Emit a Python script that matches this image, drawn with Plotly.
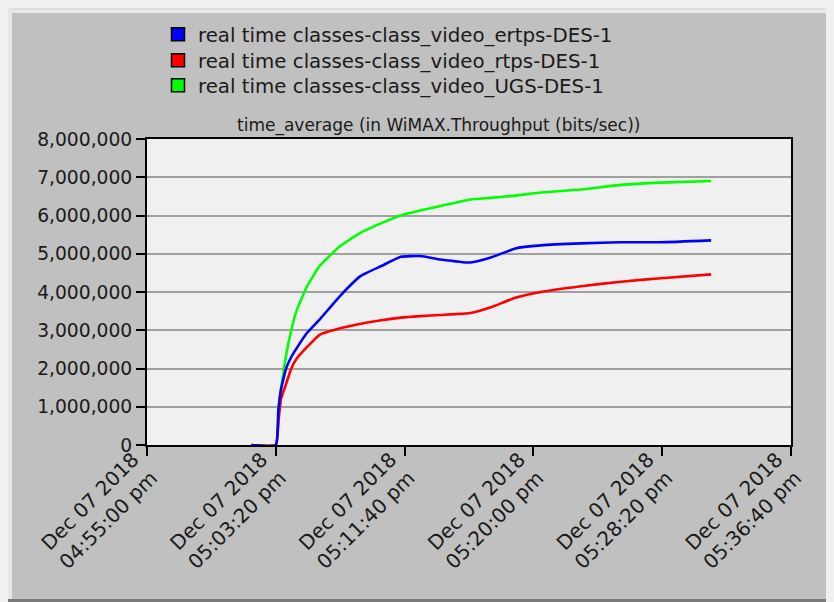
import plotly.graph_objects as go

# ---- data ----
times = ["2018-12-07 17:01:45", "2018-12-07 17:03:20", "2018-12-07 17:03:30",
         "2018-12-07 17:03:40", "2018-12-07 17:04:00", "2018-12-07 17:04:20",
         "2018-12-07 17:04:40", "2018-12-07 17:05:20", "2018-12-07 17:06:10",
         "2018-12-07 17:07:30", "2018-12-07 17:08:50", "2018-12-07 17:10:10",
         "2018-12-07 17:11:25", "2018-12-07 17:12:40", "2018-12-07 17:14:00",
         "2018-12-07 17:15:55", "2018-12-07 17:17:15", "2018-12-07 17:18:50",
         "2018-12-07 17:20:30", "2018-12-07 17:23:05", "2018-12-07 17:25:40",
         "2018-12-07 17:28:15", "2018-12-07 17:31:30"]

ertps = [0, 0, 900000, 1450000, 2000000, 2300000, 2520000, 2920000, 3280000,
         3900000, 4420000, 4680000, 4920000, 4940000, 4850000, 4770000,
         4900000, 5140000, 5220000, 5270000, 5300000, 5300000, 5350000]
rtps = [0, 0, 600000, 1200000, 1600000, 2000000, 2250000, 2550000, 2880000,
        3050000, 3170000, 3260000, 3330000, 3370000, 3400000, 3450000,
        3600000, 3850000, 4000000, 4150000, 4270000, 4360000, 4460000]
ugs = [0, 0, 950000, 1450000, 2350000, 3000000, 3500000, 4130000, 4680000,
       5200000, 5550000, 5800000, 6000000, 6130000, 6250000, 6420000,
       6460000, 6520000, 6600000, 6680000, 6800000, 6860000, 6900000]

series_names = ["real time classes-class_video_ertps-DES-1",
                "real time classes-class_video_rtps-DES-1",
                "real time classes-class_video_UGS-DES-1"]
series_colors = ["#0000ff", "#ff0000", "#00ff00"]

x_tick_vals = ["2018-12-07 16:55:00", "2018-12-07 17:03:20", "2018-12-07 17:11:40",
               "2018-12-07 17:20:00", "2018-12-07 17:28:20", "2018-12-07 17:36:40"]
x_tick_text = ["Dec 07 2018<br>04:55:00 pm", "Dec 07 2018<br>05:03:20 pm",
               "Dec 07 2018<br>05:11:40 pm", "Dec 07 2018<br>05:20:00 pm",
               "Dec 07 2018<br>05:28:20 pm", "Dec 07 2018<br>05:36:40 pm"]
y_tick_vals = [0, 1000000, 2000000, 3000000, 4000000, 5000000, 6000000, 7000000, 8000000]

title_text = "time_average (in WiMAX.Throughput (bits/sec))"

# ---- layout geometry (figure-local pixels; page adds an 8px body margin) ----
W, H = 826, 594
L, R, T, B = 139, 783, 131, 437
pw, ph = R - L, B - T


def px(xp):
    return (xp - L) / pw


def py(yp):
    return (B - yp) / ph


FONT = "DejaVu Sans, Verdana, sans-serif"
TXT = "#1a1a1a"
legend_rows = [26.5, 52.5, 77.5]

fig = go.Figure()

series_y = [ertps, rtps, ugs]
for i in [2, 1, 0]:
    fig.add_trace(go.Scatter(x=times, y=series_y[i], mode="lines",
                             line=dict(color=series_colors[i], width=2.6,
                                       shape="spline", smoothing=0.4),
                             showlegend=False, hoverinfo="skip"))
legend_ids = ["legend", "legend2", "legend3"]
for i in range(3):
    fig.add_trace(go.Scatter(x=[None], y=[None], mode="markers", name=series_names[i],
                             marker=dict(symbol="square", size=13, color=series_colors[i],
                                         line=dict(color="#000000", width=1.5)),
                             legend=legend_ids[i]))

shapes = [
    dict(type="rect", xref="paper", yref="paper", x0=px(0), x1=px(W), y0=py(0), y1=py(5),
         fillcolor="#e8e8e8", line=dict(width=0), layer="below"),
    dict(type="rect", xref="paper", yref="paper", x0=px(0), x1=px(W), y0=py(0), y1=py(1.5),
         fillcolor="#dcdcdc", line=dict(width=0), layer="below"),
    dict(type="rect", xref="paper", yref="paper", x0=px(0), x1=px(4), y0=py(0), y1=py(H),
         fillcolor="#e6e6e6", line=dict(width=0), layer="below"),
    dict(type="rect", xref="paper", yref="paper", x0=px(0), x1=px(W), y0=py(591), y1=py(H),
         fillcolor="#7a7a7a", line=dict(width=0), layer="below"),
]

legend_style = dict(xanchor="left", yanchor="middle", bgcolor="rgba(0,0,0,0)",
                    font=dict(family=FONT, size=19.8, color=TXT), itemwidth=30)

fig.update_layout(
    width=W, height=H,
    margin=dict(l=L, r=W - R, t=T, b=H - B, pad=0, autoexpand=False),
    paper_bgcolor="#c0c0c0",
    plot_bgcolor="#f0f0f0",
    font=dict(family=FONT, size=18, color=TXT),
    shapes=shapes,
    showlegend=True,
    legend=dict(x=px(150), y=py(legend_rows[0]), **legend_style),
    legend2=dict(x=px(150), y=py(legend_rows[1]), **legend_style),
    legend3=dict(x=px(150), y=py(legend_rows[2]), **legend_style),
    annotations=[dict(text=title_text, xref="paper", yref="paper", x=px(430), y=py(117.5),
                      xanchor="center", yanchor="middle", showarrow=False,
                      font=dict(family=FONT, size=17, color=TXT))],
    xaxis=dict(type="date", range=[x_tick_vals[0], x_tick_vals[-1]],
               tickvals=x_tick_vals, ticktext=x_tick_text, tickangle=-45,
               ticks="outside", ticklen=9, tickwidth=1.5, tickcolor="#000000",
               showline=True, linecolor="#000000", linewidth=2, mirror=True,
               showgrid=False, zeroline=False, automargin=False,
               ticklabelshift=-14, ticklabelstandoff=-16,
               tickfont=dict(family=FONT, size=20, color=TXT)),
    yaxis=dict(range=[0, 8000000], tickvals=y_tick_vals, tickformat=",d",
               ticks="outside", ticklen=9, tickwidth=1.5, tickcolor="#000000",
               showline=True, linecolor="#000000", linewidth=2, mirror=True,
               showgrid=True, gridcolor="#a0a0a0", gridwidth=1.6, zeroline=False,
               automargin=False,
               tickfont=dict(family=FONT, size=18.7, color=TXT)),
)

fig.write_html("out.html", post_script="document.body.style.background='#f0f0f0';")
